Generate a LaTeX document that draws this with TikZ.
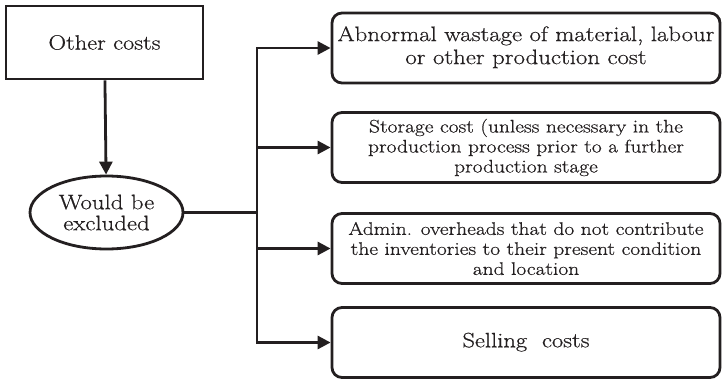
\documentclass[tikz,border=0pt]{standalone}
\usepackage{fontspec}
\setmainfont[FakeStretch=1.18,FakeBold=0.6]{Latin Modern Roman}
\usetikzlibrary{shapes.geometric,arrows.meta}
\definecolor{ink}{HTML}{231F20}
\begin{document}
\begin{tikzpicture}[x=1pt,y=-1pt,
  every node/.style={text=ink},
  line/.style={draw=ink,line width=2.8pt},
  arr/.style={line,-{Triangle[length=13pt,width=13pt]}},
  sqbox/.style={draw=ink,line width=2.8pt,rectangle,minimum width=197pt,minimum height=73pt,inner sep=0pt},
  oval/.style={draw=ink,line width=2.8pt,ellipse,minimum width=153pt,minimum height=73pt,inner sep=0pt,align=center},
  rbox/.style={draw=ink,line width=2.8pt,rectangle,rounded corners=10pt,minimum width=388pt,minimum height=70pt,inner sep=0pt,align=center}]
\useasboundingbox (0,0) rectangle (723,380);
\node[sqbox,font=\fontsize{20.7}{23}\selectfont] (oc) at (104.5,42.5) {Other costs};
\node[oval,font=\fontsize{21}{21}\selectfont] (ex) at (106.5,212.5) {Would be\\excluded};
\node[rbox,font=\fontsize{21}{23}\selectfont] (b1) at (526,48) {\raisebox{9pt}{\begin{tabular}{@{}c@{}}Abnormal wastage of material, labour\\or other production cost\end{tabular}}};
\node[rbox,font=\fontsize{18.2}{20}\selectfont] (b2) at (526,147.5) {Storage cost (unless necessary in the\\production process prior to a further\\production stage};
\node[rbox,font=\fontsize{18.2}{20}\selectfont] (b3) at (526,248.5) {Admin. overheads that do not contribute\\the inventories to their present condition\\and location};
\node[rbox,font=\fontsize{20.8}{24}\selectfont] (b4) at (526,342.5) {\raisebox{5pt}{Selling\ \ costs}};
\coordinate (j) at (257,212.5);
\draw[arr] (oc) -- (ex);
\draw[line] (ex.east) -- (j);
\draw[arr] (j) |- (b1.west);
\draw[arr] (j) |- (b2.west);
\draw[arr] (j) |- (b3.west);
\draw[arr] (j) |- (b4.west);
\end{tikzpicture}
\end{document}
